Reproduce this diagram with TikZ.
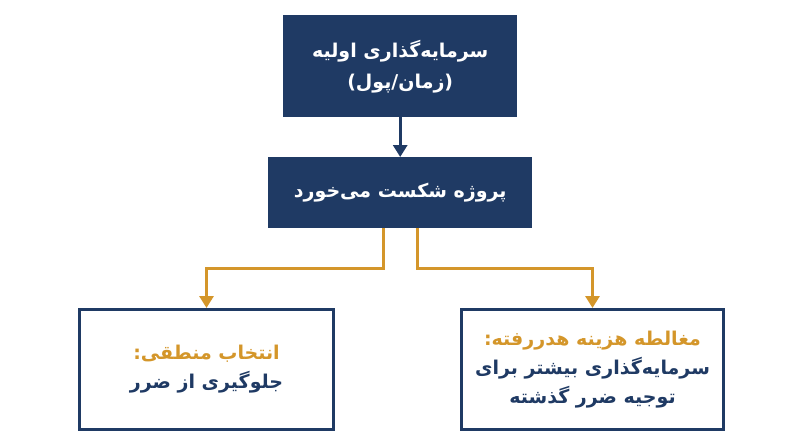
\documentclass[tikz,border=0pt]{standalone}
\usepackage{fontspec}
\setmainfont[Script=Arabic]{DejaVu Sans}
\TeXXeTstate=1
\newcommand{\fa}[1]{\beginR #1\endR}
\usetikzlibrary{arrows.meta}
\definecolor{navy}{HTML}{1F3A64}
\definecolor{gold}{HTML}{D4962A}
\begin{document}
\begin{tikzpicture}[x=1pt,y=-1pt,
  dark/.style={fill=navy,text=white,font=\bfseries\fontsize{19}{31}\selectfont,align=center,anchor=north west},
  light/.style={draw=navy,line width=3pt,fill=white,font=\bfseries\fontsize{19}{29}\selectfont,align=center,text=navy,anchor=north west,inner sep=0pt},
  conn/.style={draw=gold,line width=3pt,-{Triangle[length=12pt,width=14pt]}},
  conn2/.style={draw=navy,line width=3pt,-{Triangle[length=12pt,width=14pt]}}]
\useasboundingbox (0,0) rectangle (800,447);
\node[dark,minimum width=234pt,minimum height=102pt] (a) at (283,15) {\fa{سرمایه‌گذاری اولیه}\\\fa{(زمان/پول)}};
\node[dark,minimum width=264pt,minimum height=71pt] (b) at (268,157) {\fa{پروژه شکست می‌خورد}};
\node[light,minimum width=254pt,minimum height=120pt] (l) at (78,308) {\textcolor{gold}{\fa{انتخاب منطقی:}}\\\fa{جلوگیری از ضرر}};
\node[light,minimum width=262pt,minimum height=120pt] (r) at (460,308) {\textcolor{gold}{\fa{مغالطه هزینه هدررفته:}}\\\fa{سرمایه‌گذاری بیشتر برای}\\\fa{توجیه ضرر گذشته}};
\draw[conn2] (a.south) -- (b.north);
\coordinate (bl) at (383,228);
\coordinate (br) at (417,228);
\draw[conn] (bl) -- (383,268) -| (l.north);
\draw[conn] (br) -- (417,268) -| (r.north);
\end{tikzpicture}
\end{document}
